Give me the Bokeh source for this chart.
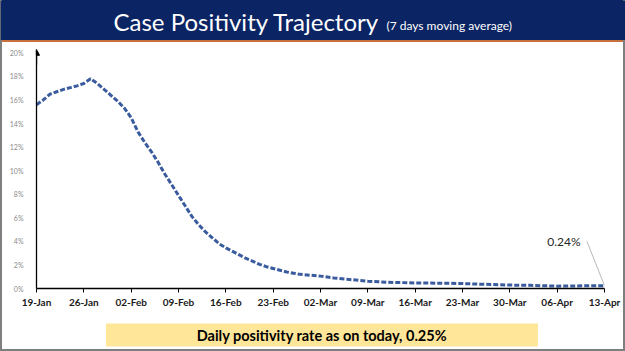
from datetime import datetime
from bokeh.plotting import figure
from bokeh.layouts import column
from bokeh.models import (FixedTicker, PrintfTickFormatter, DatetimeTickFormatter,
                          Arrow, NormalHead, Range1d)
from bokeh.core.properties import value
from bokeh.embed import file_html
from bokeh.resources import INLINE

# ---------------- data ----------------
dates = ["2022-01-19", "2022-01-20", "2022-01-21", "2022-01-22", "2022-01-23",
         "2022-01-24", "2022-01-25", "2022-01-26", "2022-01-27", "2022-01-28",
         "2022-01-29", "2022-01-30", "2022-01-31", "2022-02-01", "2022-02-02",
         "2022-02-03", "2022-02-04", "2022-02-05", "2022-02-06", "2022-02-07",
         "2022-02-08", "2022-02-09", "2022-02-10", "2022-02-11", "2022-02-12",
         "2022-02-13", "2022-02-14", "2022-02-15", "2022-02-16", "2022-02-17",
         "2022-02-18", "2022-02-19", "2022-02-20", "2022-02-21", "2022-02-22",
         "2022-02-23", "2022-02-24", "2022-02-25", "2022-02-26", "2022-02-27",
         "2022-02-28", "2022-03-02", "2022-03-04", "2022-03-06", "2022-03-09",
         "2022-03-12", "2022-03-16", "2022-03-20", "2022-03-23", "2022-03-26",
         "2022-03-30", "2022-04-02", "2022-04-06", "2022-04-09", "2022-04-13"]
positivity = [15.6, 16.0, 16.5, 16.7, 16.9,
              17.05, 17.2, 17.4, 17.8, 17.4,
              16.9, 16.4, 15.9, 15.3, 14.5,
              13.3, 12.4, 11.6, 10.7, 9.7,
              8.8, 7.9, 7.0, 6.1, 5.4,
              4.8, 4.3, 3.8, 3.45, 3.15,
              2.85, 2.55, 2.3, 2.05, 1.85,
              1.7, 1.55, 1.4, 1.3, 1.2,
              1.15, 1.05, 0.9, 0.78, 0.62,
              0.53, 0.47, 0.45, 0.42, 0.36,
              0.29, 0.27, 0.2, 0.22, 0.24]
x_tick_dates = ["2022-01-19", "2022-01-26", "2022-02-02", "2022-02-09", "2022-02-16",
                "2022-02-23", "2022-03-02", "2022-03-09", "2022-03-16", "2022-03-23",
                "2022-03-30", "2022-04-06", "2022-04-13"]
y_ticks = [0, 2, 4, 6, 8, 10, 12, 14, 16, 18, 20]
latest_label = "0.24%"
latest_label_date = "2022-04-07"
latest_label_value = 4.0
title_text = "Case Positivity Trajectory"
subtitle_text = "(7 days moving average)"
footer_text = "Daily positivity rate as on today, 0.25%"

FONT = "Lato"
NAVY = "#0B2463"
ORANGE = "#C9713E"
LINE_BLUE = "#3A5B9E"
GREY = "#7F7F7F"

# frame of the chart in page pixels
FX0, FX1 = 34, 606


def to_dt(s):
    return datetime.strptime(s, "%Y-%m-%d")


def to_ms(s):
    return to_dt(s).timestamp() * 1000.0


xs = [to_dt(d) for d in dates]

# ---------------- banner ----------------
banner = figure(width=625, height=40, x_range=Range1d(FX0, FX1), y_range=Range1d(40, 0),
                output_backend="svg", toolbar_location=None,
                x_axis_location=None, y_axis_location=None,
                min_border_left=FX0, min_border_right=625 - FX1, min_border_top=0, min_border_bottom=0,
                outline_line_color=None, background_fill_color=NAVY, border_fill_color=NAVY)
banner.grid.visible = False
banner.text(x=[113], y=[20.5], text=[title_text], text_color="white",
            text_font=value(FONT), text_font_size="24px", text_baseline="middle",
            text_align="left")
banner.text(x=[386], y=[24.5], text=[subtitle_text], text_color="white",
            text_font=value(FONT), text_font_size="12px", text_baseline="middle",
            text_align="left")

# ---------------- main chart ----------------
p = figure(width=621, height=271, x_axis_type="datetime",
           x_range=Range1d(to_ms(x_tick_dates[0]), to_ms(x_tick_dates[-1])),
           y_range=Range1d(0, 20.2),
           output_backend="svg", toolbar_location=None,
           min_border_left=FX0 - 2, min_border_right=623 - FX1, min_border_top=8, min_border_bottom=25,
           margin=(2, 2, 0, 2), outline_line_color=None,
           background_fill_color="white", border_fill_color="white")
p.grid.visible = False

p.line(x=xs, y=positivity, line_color=LINE_BLUE, line_width=3, line_dash="5 2")

last_x = xs[-1]
last_y = positivity[-1]
p.segment(x0=[to_ms(latest_label_date) + 3.4 * 86400000], y0=[latest_label_value],
          x1=[last_x], y1=[last_y], line_color="#A6A6A6", line_width=0.8)
p.text(x=[to_dt(latest_label_date)], y=[latest_label_value], text=[latest_label],
       text_font=value(FONT), text_font_size="12px", text_color="#262626",
       text_align="center", text_baseline="middle")

p.xaxis.ticker = FixedTicker(ticks=[to_ms(d) for d in x_tick_dates])
fmt = "%d-%b"
p.xaxis.formatter = DatetimeTickFormatter(milliseconds=fmt, seconds=fmt, minsec=fmt, minutes=fmt,
                                          hourmin=fmt, hours=fmt, days=fmt, months=fmt, years=fmt)
p.xaxis.axis_line_color = "black"
p.xaxis.axis_line_width = 1.3
p.xaxis.major_tick_line_color = "black"
p.xaxis.major_tick_out = 4
p.xaxis.major_tick_in = 0
p.xaxis.minor_tick_line_color = None
p.xaxis.major_label_text_font = FONT
p.xaxis.major_label_text_font_size = "10px"
p.xaxis.major_label_text_font_style = "bold"
p.xaxis.major_label_text_color = "#1a1a1a"
p.xaxis.major_label_standoff = 3

p.yaxis.ticker = FixedTicker(ticks=y_ticks)
p.yaxis.formatter = PrintfTickFormatter(format="%d%%")
p.yaxis.axis_line_color = "black"
p.yaxis.axis_line_width = 1.3
p.yaxis.major_tick_line_color = None
p.yaxis.minor_tick_line_color = None
p.yaxis.major_label_text_font = FONT
p.yaxis.major_label_text_font_size = "7px"
p.yaxis.major_label_text_color = "#8C8C8C"
p.yaxis.major_label_standoff = 7

p.add_layout(Arrow(end=NormalHead(size=6, fill_color="black", line_color="black"),
                   x_start=to_ms(x_tick_dates[0]), y_start=19.0,
                   x_end=to_ms(x_tick_dates[0]), y_end=20.3,
                   line_color="black", line_width=1.3))

# ---------------- footer ----------------
foot = figure(width=621, height=36, x_range=Range1d(FX0, FX1), y_range=Range1d(349, 313),
              output_backend="svg", toolbar_location=None,
              x_axis_location=None, y_axis_location=None,
              min_border_left=FX0 - 2, min_border_right=623 - FX1, min_border_top=0, min_border_bottom=0,
              margin=(0, 2, 2, 2), outline_line_color=None,
              background_fill_color="white", border_fill_color="white")
foot.grid.visible = False
foot.quad(left=[104], right=[539], top=[323], bottom=[346], fill_color="#FFE699", line_color=None)
foot.text(x=[321.5], y=[334.5], text=[footer_text], text_color="black",
          text_font=value(FONT), text_font_size="14.5px", text_font_style="bold",
          text_align="center", text_baseline="middle")

bg = ("linear-gradient(to right, {g} 0px, {g} 2px, rgba(0,0,0,0) 2px, rgba(0,0,0,0) 623px, {g} 623px), "
      "linear-gradient(to bottom, {n} 0px, {n} 40px, {o} 40px, {o} 42px, #ffffff 42px, #ffffff 349px, "
      "{g} 349px)").format(g=GREY, n=NAVY, o=ORANGE)

layout = column(banner, p, foot, spacing=0, styles={"background": bg})

open("out.html", "w").write(file_html(layout, INLINE))
